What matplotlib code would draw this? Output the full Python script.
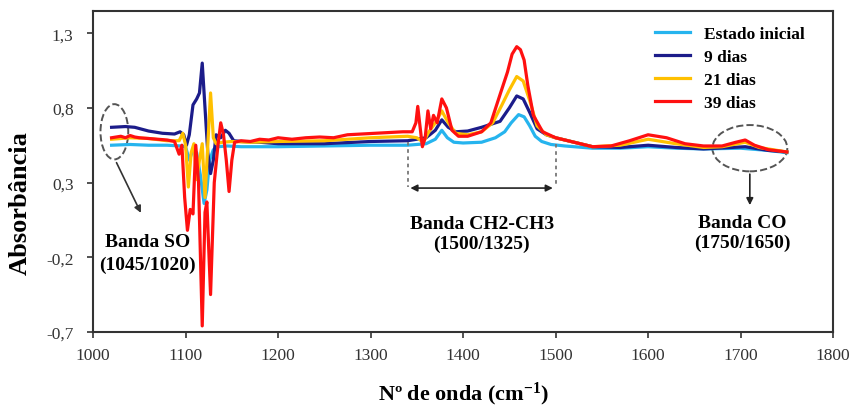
import numpy as np
import matplotlib.pyplot as plt
from matplotlib.patches import Ellipse
from matplotlib.ticker import FuncFormatter

plt.rcParams['font.family'] = ['Liberation Serif', 'DejaVu Serif']
plt.rcParams['mathtext.fontset'] = 'custom'
plt.rcParams['mathtext.bf'] = 'Liberation Serif:bold'
plt.rcParams['mathtext.rm'] = 'Liberation Serif'

# Estado inicial
x_inicial = [1020, 1040, 1060, 1080, 1095, 1100, 1104, 1108, 1112, 1116, 1120, 1123, 1126, 1130,
             1135, 1145, 1160, 1200, 1250, 1300, 1340, 1360, 1370, 1377, 1383, 1390, 1400, 1420,
             1435, 1445, 1452, 1460, 1466, 1472, 1478, 1485, 1495, 1510, 1540, 1570, 1600, 1630,
             1660, 1700, 1730, 1750]
y_inicial = [0.55, 0.555, 0.55, 0.55, 0.545, 0.54, 0.45, 0.52, 0.50, 0.35, 0.16, 0.25, 0.45, 0.52,
             0.54, 0.545, 0.54, 0.54, 0.545, 0.55, 0.55, 0.56, 0.59, 0.65, 0.60, 0.57, 0.565, 0.57,
             0.60, 0.64, 0.70, 0.755, 0.74, 0.68, 0.61, 0.575, 0.555, 0.545, 0.53, 0.53, 0.54, 0.53,
             0.525, 0.53, 0.515, 0.50]

# 9 dias
x_9 = [1020, 1035, 1045, 1060, 1075, 1088, 1094, 1098, 1101, 1104, 1108, 1112, 1115, 1118, 1121,
       1124, 1127, 1130, 1133, 1138, 1143, 1147, 1152, 1160, 1180, 1200, 1250, 1300, 1340, 1360,
       1370, 1377, 1384, 1392, 1405, 1420, 1440, 1450, 1458, 1465, 1472, 1480, 1490, 1500, 1520,
       1540, 1570, 1600, 1630, 1660, 1705, 1730, 1750]
y_9 = [0.67, 0.675, 0.67, 0.645, 0.63, 0.625, 0.64, 0.62, 0.55, 0.62, 0.82, 0.86, 0.90, 1.10, 0.80,
       0.50, 0.36, 0.45, 0.62, 0.60, 0.65, 0.63, 0.58, 0.575, 0.57, 0.56, 0.56, 0.575, 0.58, 0.60,
       0.65, 0.72, 0.67, 0.64, 0.645, 0.67, 0.71, 0.80, 0.88, 0.86, 0.77, 0.66, 0.62, 0.60, 0.57,
       0.54, 0.535, 0.55, 0.535, 0.525, 0.54, 0.515, 0.505]

# 21 dias
x_21 = [1020, 1040, 1060, 1080, 1093, 1097, 1100, 1103, 1106, 1109, 1112, 1115, 1118, 1121, 1124,
        1127, 1130, 1133, 1140, 1150, 1170, 1200, 1250, 1300, 1340, 1350, 1357, 1363, 1370, 1377,
        1384, 1392, 1405, 1420, 1432, 1442, 1450, 1458, 1465, 1472, 1480, 1490, 1500, 1520, 1540,
        1570, 1600, 1630, 1660, 1680, 1705, 1720, 1750]
y_21 = [0.59, 0.60, 0.595, 0.58, 0.58, 0.63, 0.55, 0.27, 0.50, 0.56, 0.32, 0.45, 0.56, 0.20, 0.55,
        0.90, 0.60, 0.56, 0.57, 0.575, 0.57, 0.575, 0.58, 0.60, 0.61, 0.60, 0.57, 0.64, 0.70, 0.78,
        0.70, 0.63, 0.62, 0.64, 0.70, 0.82, 0.92, 1.01, 0.98, 0.85, 0.68, 0.62, 0.60, 0.57, 0.54,
        0.55, 0.59, 0.56, 0.535, 0.54, 0.57, 0.535, 0.505]

# 39 dias
x_39 = [1020, 1025, 1030, 1035, 1040, 1045, 1050, 1060, 1070, 1080, 1088, 1093, 1096, 1099, 1102,
        1105, 1108, 1111, 1114, 1118, 1121, 1123, 1127, 1131, 1135, 1138, 1141, 1144, 1147, 1150,
        1153, 1160, 1170, 1180, 1190, 1200, 1215, 1230, 1245, 1260, 1275, 1290, 1305, 1320, 1335,
        1345, 1349, 1351, 1353, 1356, 1359, 1362, 1365, 1368, 1372, 1377, 1382, 1388, 1395, 1405,
        1420, 1430, 1440, 1448, 1453, 1458, 1462, 1466, 1470, 1476, 1486, 1500, 1520, 1540, 1560,
        1580, 1600, 1620, 1640, 1660, 1680, 1695, 1705, 1715, 1730, 1750]
y_39 = [0.60, 0.605, 0.61, 0.60, 0.615, 0.605, 0.60, 0.595, 0.59, 0.585, 0.575, 0.49, 0.55, 0.20, -0.02,
        0.12, 0.09, 0.55, 0.30, -0.66, 0.10, 0.17, -0.45, 0.30, 0.55, 0.70, 0.62, 0.45, 0.24, 0.45,
        0.57, 0.58, 0.575, 0.59, 0.585, 0.60, 0.59, 0.60, 0.605, 0.60, 0.62, 0.625, 0.63, 0.635, 0.64,
        0.64, 0.70, 0.81, 0.70, 0.54, 0.60, 0.78, 0.66, 0.75, 0.70, 0.86, 0.80, 0.65, 0.61, 0.61,
        0.64, 0.70, 0.89, 1.04, 1.16, 1.21, 1.19, 1.12, 0.95, 0.75, 0.64, 0.60, 0.57, 0.54, 0.545,
        0.58, 0.62, 0.60, 0.56, 0.545, 0.545, 0.57, 0.585, 0.55, 0.52, 0.505]

labels = ['Estado inicial', '9 dias', '21 dias', '39 dias']
colors = ['#26b4ee', '#1c1c8a', '#ffc000', '#ff1010']

fig = plt.figure(figsize=(8.54, 4.14), dpi=100)
ax = fig.add_axes([0.109, 0.196, 0.8665, 0.7754])

series = [(x_inicial, y_inicial), (x_9, y_9), (x_21, y_21), (x_39, y_39)]
for (xs, ys), lab, col in zip(series, labels, colors):
    ax.plot(xs, ys, color=col, lw=2.3, label=lab, solid_joinstyle='round')

ax.set_xlim(1000, 1800)
ax.set_ylim(-0.7, 1.45)
ax.set_xticks(np.arange(1000, 1801, 100))
ax.set_yticks([-0.7, -0.2, 0.3, 0.8, 1.3])
ax.yaxis.set_major_formatter(FuncFormatter(lambda v, p: f'{v:.1f}'.replace('.', ',')))
ax.tick_params(labelsize=12.5, colors='#333333', length=4, width=1.2)
ax.tick_params(axis='y', pad=10)
ax.tick_params(axis='x', pad=7)
for s in ax.spines.values():
    s.set_color('#333333')
    s.set_linewidth(1.5)

ax.set_ylabel('Absorbância', fontsize=19, fontweight='bold')
ax.yaxis.set_label_coords(-0.083, 0.405)
ax.set_xlabel(r'Nº de onda (cm$\mathbf{^{-1}}$)', fontsize=16, fontweight='bold', labelpad=12)

# Banda SO
ax.add_patch(Ellipse((1023, 0.64), 30, 0.37, fill=False, ls='--', lw=1.4, ec='#555555'))
ax.annotate('', xy=(1053, 0.08), xytext=(1024, 0.45),
            arrowprops=dict(arrowstyle='-|>', color='#333333', lw=1.2))
ax.text(1059, -0.17, 'Banda SO\n(1045/1020)', ha='center', va='center', fontsize=14,
        fontweight='bold', linespacing=1.4)

# Banda CH2-CH3
ax.plot([1340, 1340], [0.57, 0.27], ls=(0, (2, 2)), color='#777777', lw=1.3)
ax.plot([1500, 1500], [0.56, 0.27], ls=(0, (2, 2)), color='#777777', lw=1.3)
ax.annotate('', xy=(1500, 0.263), xytext=(1340, 0.263),
            arrowprops=dict(arrowstyle='<|-|>', color='#222222', lw=1.2))
ax.text(1420, -0.04, 'Banda CH2-CH3\n(1500/1325)', ha='center', va='center', fontsize=14,
        fontweight='bold', linespacing=1.2)

# Banda CO
ax.add_patch(Ellipse((1710, 0.53), 81, 0.31, fill=False, ls='--', lw=1.4, ec='#555555'))
ax.annotate('', xy=(1710, 0.13), xytext=(1710, 0.375),
            arrowprops=dict(arrowstyle='-|>', color='#222222', lw=1.2))
ax.text(1702, -0.035, 'Banda CO\n(1750/1650)', ha='center', va='center', fontsize=14,
        fontweight='bold', linespacing=1.2)

ax.legend(loc='upper left', bbox_to_anchor=(0.75, 0.975), frameon=False,
          prop={'weight': 'bold', 'size': 12.5}, handlelength=2.0, labelspacing=0.4,
          handletextpad=0.8, borderaxespad=0)

fig.savefig('out.png', dpi=100)
